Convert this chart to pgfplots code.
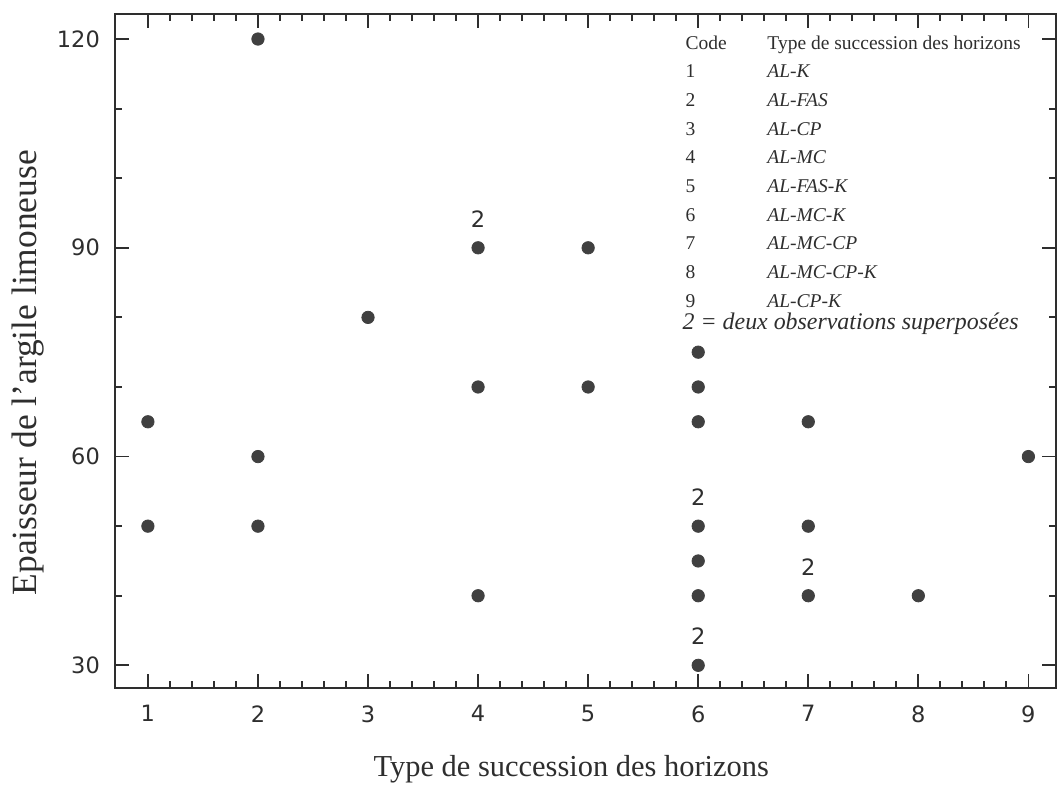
\documentclass[border=0pt]{standalone}
\usepackage{fontspec}
\setmainfont{Liberation Serif}
\newfontfamily\tickfont{DejaVu Sans}
\usepackage{pgfplots}
\pgfplotsset{compat=1.18}

\definecolor{ink}{HTML}{2E2E2E}
\definecolor{dot}{HTML}{404040}

\begin{document}
\begin{tikzpicture}
\begin{axis}[
    scale only axis,
    width=471bp, height=337.5bp,
    xmin=0.7, xmax=9.25,
    ymin=26.7, ymax=123.6,
    xtick={1,...,9},
    minor x tick num=4,
    ytick={30,60,90,120},
    minor ytick={40,50,70,80,100,110},
    tick align=inside,
    major tick length=7bp,
    minor tick length=3.5bp,
    axis line style={ink, line width=1.1bp},
    tick style={ink, line width=0.9bp},
    tick label style={font=\tickfont\fontsize{11.3}{13}\selectfont, text=ink},
    /pgf/number format/assume math mode=true,
    xticklabel style={yshift=-5bp},
    yticklabel style={xshift=-4bp},
    xlabel={Type de succession des horizons},
    ylabel={Epaisseur de l'argile limoneuse},
    xlabel style={font=\fontsize{15.3}{18}\selectfont, text=ink,
        at={(axis description cs:0.485,-0.12)}, anchor=center},
    ylabel style={font=\fontsize{17.8}{20}\selectfont, text=ink,
        at={(axis description cs:-0.092,0.468)}, anchor=center},
]

% observations
\addplot[only marks, mark=*, mark size=3.1bp, dot] coordinates {
    (1,65) (1,50)
    (2,120) (2,60) (2,50)
    (3,80)
    (4,90) (4,70) (4,40)
    (5,90) (5,70)
    (6,75) (6,70) (6,65) (6,50) (6,45) (6,40) (6,30)
    (7,65) (7,50) (7,40)
    (8,40)
    (9,60)
};

% two superposed observations
\addplot[only marks, mark=none, nodes near coords={2},
    nodes near coords style={font=\tickfont\fontsize{11.3}{13}\selectfont,
        text=ink, anchor=south, inner sep=0pt, yshift=10bp}]
coordinates {(4,90) (6,50) (6,30) (7,40)};

% code table
\node[anchor=base west, inner sep=0pt, text=ink, font=\fontsize{9.8}{12}\selectfont]
    at (axis description cs:0.606,0.948) {%
    \renewcommand{\arraystretch}{1.2}%
    \begin{tabular}[t]{@{}p{41bp}@{}l@{}}
    Code & Type de succession des horizons\\
    1 & \textit{AL-K}\\
    2 & \textit{AL-FAS}\\
    3 & \textit{AL-CP}\\
    4 & \textit{AL-MC}\\
    5 & \textit{AL-FAS-K}\\
    6 & \textit{AL-MC-K}\\
    7 & \textit{AL-MC-CP}\\
    8 & \textit{AL-MC-CP-K}\\
    9 & \textit{AL-CP-K}
    \end{tabular}};
\node[anchor=base west, inner sep=0pt, text=ink, font=\fontsize{12}{15}\selectfont\itshape]
    at (axis description cs:0.603,0.532) {2 = deux observations superposées};

\end{axis}
\path (current axis.south west) ++(-57.5bp,-52.5bp);
\path (current axis.north east) ++(0,7bp);
\end{tikzpicture}
\end{document}
